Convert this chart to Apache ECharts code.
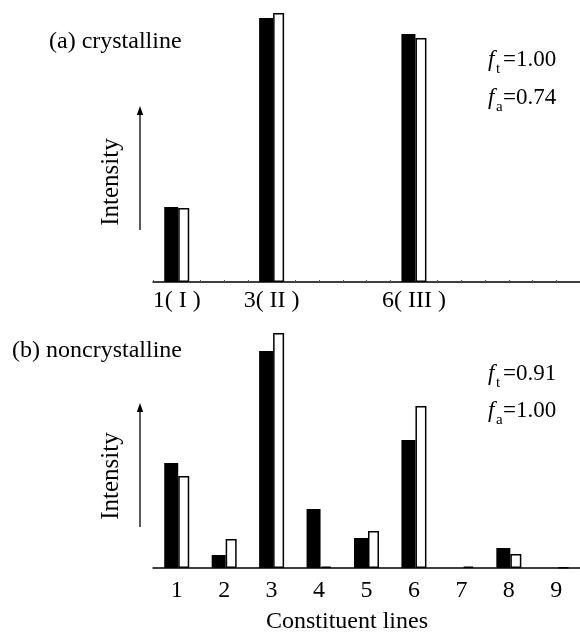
<!DOCTYPE html>
<html>
<head>
<meta charset="utf-8">
<script src="https://cdn.jsdelivr.net/npm/echarts@6/dist/echarts.min.js"></script>
<style>html,body{margin:0;padding:0;background:#fff}#c{width:580px;height:632px}</style>
</head>
<body>
<div id="c"></div>
<script>
// Data (relative intensity, arbitrary units); null = line absent
const categories = ['1','2','3','4','5','6','7','8','9'];
const topTickLabels = ['1( I )','','3( II )','','','6( III )','','',''];
const crystTheory = [75, null, 264, null, null, 248, null, null, null];
const crystObserved = [74, null, 269, null, null, 244, null, null, null];
const noncrystTheory = [105, 13, 217, 59, 30, 128, null, 20, null];
const noncrystObserved = [92, 29, 235, 1.5, 37, 162, 1.5, 14, 0.7];

const FONT = "'Liberation Serif','DejaVu Serif',serif";
const chart = echarts.init(document.getElementById('c'), null, {renderer:'canvas'});

function arrow(x, y1, y2) {
  return [
    {type:'line', shape:{x1:x, y1:y2, x2:x, y2:y1+6}, style:{stroke:'#000', lineWidth:1.3}},
    {type:'polygon', shape:{points:[[x, y1],[x-3.2, y1+9],[x+3.2, y1+9]]}, style:{fill:'#000'}}
  ];
}
function fText(x, y, sub, rest) {
  return [
    {type:'text', x:x, y:y, style:{text:'f', font:'italic 23px ' + FONT, fill:'#000', verticalAlign:'middle'}},
    {type:'text', x:x+8, y:y+9, style:{text:sub, font:'15px ' + FONT, fill:'#000', verticalAlign:'middle'}},
    {type:'text', x:x+15, y:y, style:{text:rest, font:'23px ' + FONT, fill:'#000', verticalAlign:'middle'}}
  ];
}

const blackStyle = {color:'#000'};
const whiteStyle = {color:'#fff', borderColor:'#000', borderWidth:1.5};

chart.setOption({
  animation:false,
  backgroundColor:'#fff',
  grid:[
    {left:153, width:433, top:2, height:280},
    {left:153, width:433, top:328, height:240}
  ],
  xAxis:[
    {type:'category', gridIndex:0, data:categories,
     axisLine:{lineStyle:{color:'#000', width:1.5}},
     axisTick:{show:false},
     axisLabel:{interval:0, margin:7, color:'#000', fontFamily:FONT, fontSize:24,
       formatter:(v, i) => topTickLabels[i]}},
    {type:'value', gridIndex:0, position:'bottom', min:0.5, max:9.5, interval:0.5,
     axisLine:{show:false}, axisLabel:{show:false}, splitLine:{show:false},
     axisTick:{show:true, inside:true, length:2, lineStyle:{color:'#555', width:1}}},
    {type:'category', gridIndex:1, data:categories,
     axisLine:{lineStyle:{color:'#000', width:1.5}},
     axisTick:{show:false},
     axisLabel:{interval:0, margin:11, color:'#000', fontFamily:FONT, fontSize:24}}
  ],
  yAxis:[
    {type:'value', gridIndex:0, min:0, max:280, show:false},
    {type:'value', gridIndex:1, min:0, max:240, show:false}
  ],
  series:[
    {type:'bar', xAxisIndex:0, yAxisIndex:0, data:crystTheory, barWidth:14, barGap:'0%', itemStyle:blackStyle},
    {type:'bar', xAxisIndex:0, yAxisIndex:0, data:crystObserved, barWidth:11, barGap:'0%', itemStyle:whiteStyle},
    {type:'bar', xAxisIndex:2, yAxisIndex:1, data:noncrystTheory, barWidth:14, barGap:'0%', itemStyle:blackStyle},
    {type:'bar', xAxisIndex:2, yAxisIndex:1, data:noncrystObserved, barWidth:11, barGap:'0%', itemStyle:whiteStyle}
  ],
  graphic:[
    {type:'text', x:49, y:42, style:{text:'(a) crystalline', font:'24px ' + FONT, fill:'#000', verticalAlign:'middle'}},
    {type:'text', x:12, y:351, style:{text:'(b) noncrystalline', font:'24px ' + FONT, fill:'#000', verticalAlign:'middle'}},
    {type:'text', x:111, y:182, rotation:Math.PI/2, style:{text:'Intensity', font:'25px ' + FONT, fill:'#000', align:'center', verticalAlign:'middle'}},
    {type:'text', x:111, y:476, rotation:Math.PI/2, style:{text:'Intensity', font:'25px ' + FONT, fill:'#000', align:'center', verticalAlign:'middle'}},
    ...arrow(140, 106, 230),
    ...arrow(140, 403, 527),
    ...fText(488, 60, 't', '=1.00'),
    ...fText(488, 98, 'a', '=0.74'),
    ...fText(488, 374, 't', '=0.91'),
    ...fText(488, 411, 'a', '=1.00'),
    {type:'text', x:347, y:622, style:{text:'Constituent lines', font:'24px ' + FONT, fill:'#000', align:'center', verticalAlign:'middle'}}
  ]
});
</script>
</body>
</html>
